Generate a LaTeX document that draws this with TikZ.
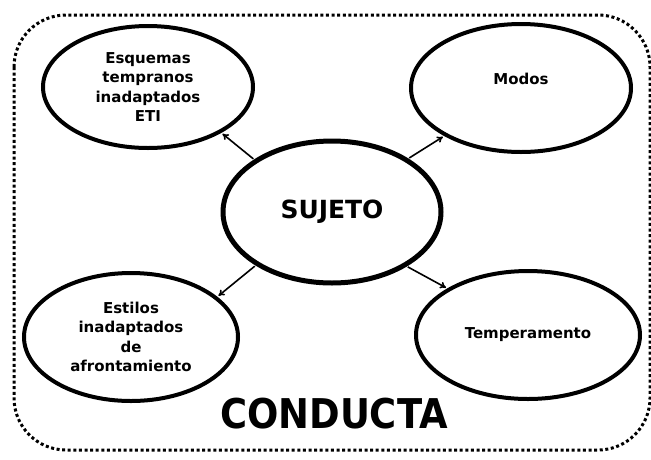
\documentclass[tikz,border=0pt]{standalone}
\usepackage{fontspec}
\setmainfont{DejaVu Sans}
\usetikzlibrary{shapes.geometric,arrows.meta}
\tikzset{
  oval/.style={ellipse, draw=black, line width=4pt, fill=white, inner sep=0pt, align=center,
    font=\fontsize{15}{19.5}\selectfont\bfseries},
  lbl/.style={align=center, font=\fontsize{15}{19.5}\selectfont\bfseries, inner sep=0pt},
  link/.style={-{To[length=6pt,width=7pt]}, line width=1.6pt, shorten >=1.5pt, shorten <=1pt},
  frame/.style={line width=3pt, dash pattern=on 3pt off 2.6pt, rounded corners=52pt}
}
\begin{document}
\begin{tikzpicture}[x=1pt,y=-1pt]
\useasboundingbox (0,0) rectangle (651,459);
\draw[frame] (14,15) rectangle (650,450);
\node[oval, minimum width=210pt, minimum height=122pt] (esq) at (148,87)
  {Esquemas\\tempranos\\inadaptados\\ETI};
\node[oval, minimum width=220pt, minimum height=128pt] (modos) at (521,88) {};
\node[lbl] (modostxt) at ([yshift=9pt]modos.center) {Modos};
\node[oval, line width=5pt, minimum width=218pt, minimum height=142pt,
  font=\fontsize{25}{29}\selectfont\bfseries] (suj) at (332,212) {SUJETO};
\node[oval, minimum width=214pt, minimum height=128pt] (est) at (131,337)
  {Estilos\\inadaptados\\de\\afrontamiento};
\node[oval, minimum width=224pt, minimum height=128pt] (temp) at (528,335) {Temperamento};
\node[inner sep=0pt, font=\fontsize{41}{45}\selectfont\bfseries] (cond) at (334,414)
  {\scalebox{0.9}[1]{CONDUCTA}};
\draw[link] (suj.146) -- (esq.-32);
\draw[link] (suj.35) -- (modos.212);
\draw[link] (suj.215) -- (est.25);
\draw[link] (suj.-36) -- (temp.150);
\end{tikzpicture}
\end{document}
